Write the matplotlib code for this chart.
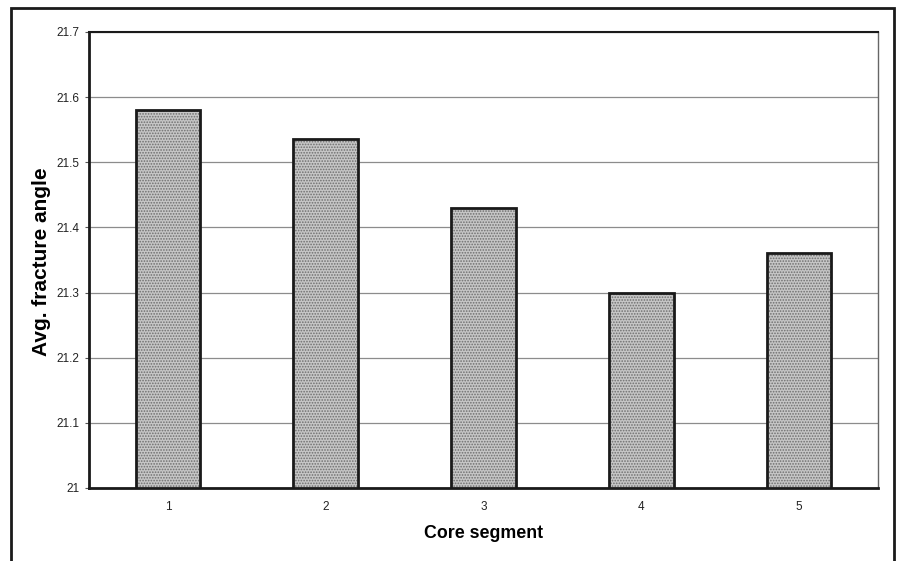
import matplotlib
matplotlib.use("Agg")
import matplotlib.pyplot as plt
from matplotlib.patches import Rectangle

categories = ["1", "2", "3", "4", "5"]
values = [21.58, 21.536, 21.43, 21.299, 21.36]
yticks = [21, 21.1, 21.2, 21.3, 21.4, 21.5, 21.6, 21.7]
ytick_labels = ["21", "21.1", "21.2", "21.3", "21.4", "21.5", "21.6", "21.7"]

plt.rcParams['font.family'] = ['Liberation Sans', 'DejaVu Sans']
plt.rcParams['hatch.linewidth'] = 0.8

fig = plt.figure(figsize=(8.99, 5.61), dpi=100)
fig.patch.set_facecolor("white")
ax = fig.add_axes([89/899, (561-488)/561, (878-89)/899, (488-32)/561])

x = list(range(len(categories)))
ax.bar(x, [v - 21 for v in values], bottom=21, width=0.41, color="#c6c6c6",
       hatch="......", edgecolor="#6e6e6e", linewidth=0, zorder=3)
ax.bar(x, [v - 21 for v in values], bottom=21, width=0.41, fill=False,
       edgecolor="#1a1a1a", linewidth=2.0, zorder=4)

ax.set_xlim(-0.5, len(categories) - 0.5)
ax.set_ylim(21, 21.7)
ax.set_yticks(yticks)
ax.set_yticklabels(ytick_labels, fontsize=8.5, color="#222222")
ax.set_xticks(x)
ax.set_xticklabels(categories, fontsize=8.5, color="#222222")
ax.tick_params(axis="x", length=0, pad=9)
ax.tick_params(axis="y", length=3, width=0.8, color="#555555", pad=4)
ax.yaxis.grid(True, color="#8c8c8c", linewidth=0.9, zorder=0)
ax.set_axisbelow(True)

for side in ["left", "bottom"]:
    ax.spines[side].set_linewidth(2.0)
    ax.spines[side].set_color("#1a1a1a")
ax.spines["top"].set_linewidth(1.5)
ax.spines["top"].set_color("#1a1a1a")
ax.spines["right"].set_linewidth(1.0)
ax.spines["right"].set_color("#666666")

ax.set_ylabel("Avg. fracture angle", fontsize=15, fontweight="bold")
ax.yaxis.set_label_coords((42 - 89) / 789, (488 - 262) / 456)
ax.set_xlabel("Core segment", fontsize=12.8, fontweight="bold")
ax.xaxis.set_label_coords(0.5, -(533 - 488) / 456, transform=ax.transAxes)
ax.xaxis.label.set_verticalalignment("center")
ax.yaxis.label.set_verticalalignment("center")

frame = Rectangle((11/899, -0.02), (894-11)/899, (561-8)/561 + 0.02,
                  transform=fig.transFigure, fill=False, edgecolor="#1a1a1a",
                  linewidth=2.0, clip_on=False)
fig.patches.append(frame)

fig.savefig("out.png", dpi=100)
